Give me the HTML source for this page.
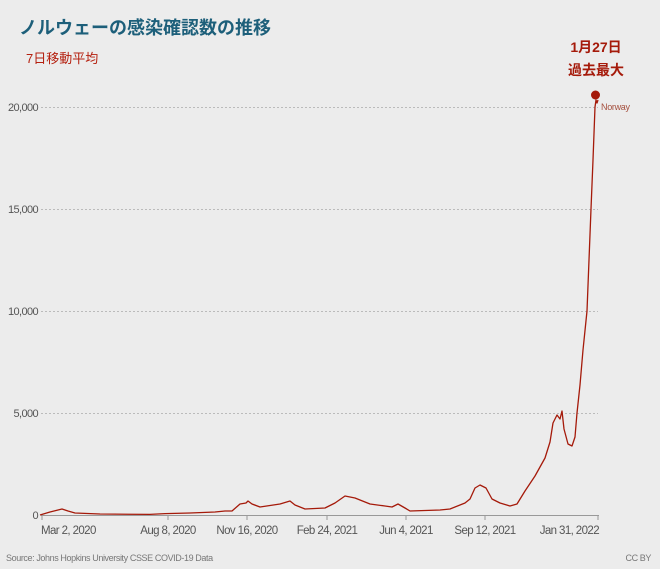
<!DOCTYPE html>
<html><head><meta charset="utf-8"><style>
body{margin:0;background:#ececec;}
svg{display:block;font-family:"Liberation Sans","Noto Sans CJK JP",sans-serif;}
</style></head><body>
<svg width="660" height="569" viewBox="0 0 660 569">
<rect width="660" height="569" fill="#ececec"/>
<text x="19" y="34" font-size="18" font-weight="bold" fill="#1d5f7a">ノルウェーの感染確認数の推移</text>
<text x="26" y="63" font-size="13" fill="#b5200f">7日移動平均</text>
<text x="596" y="52" font-size="14" font-weight="bold" fill="#a51a0a" text-anchor="middle">1月27日</text>
<text x="596" y="75" font-size="14" font-weight="bold" fill="#a51a0a" text-anchor="middle">過去最大</text>
<g stroke="#bbb" stroke-dasharray="2,2" stroke-width="1">
<line x1="41" y1="107.5" x2="598" y2="107.5"/>
<line x1="41" y1="209.5" x2="598" y2="209.5"/>
<line x1="41" y1="311.5" x2="598" y2="311.5"/>
<line x1="41" y1="413.5" x2="598" y2="413.5"/>
</g>
<g font-size="11" fill="#555" text-anchor="end" letter-spacing="-0.6">
<text x="38" y="111">20,000</text>
<text x="38" y="213">15,000</text>
<text x="38" y="315">10,000</text>
<text x="38" y="417">5,000</text>
<text x="38" y="519">0</text>
</g>
<line x1="41" y1="515.5" x2="599" y2="515.5" stroke="#999"/>
<g stroke="#999">
<line x1="42" y1="515" x2="42" y2="520"/><line x1="168" y1="515" x2="168" y2="520"/>
<line x1="247" y1="515" x2="247" y2="520"/><line x1="327" y1="515" x2="327" y2="520"/>
<line x1="406" y1="515" x2="406" y2="520"/><line x1="485" y1="515" x2="485" y2="520"/>
<line x1="598" y1="515" x2="598" y2="520"/>
</g>
<g font-size="11.5" fill="#555" text-anchor="middle" letter-spacing="-0.6">
<text x="41" y="534" text-anchor="start">Mar 2, 2020</text>
<text x="168" y="534">Aug 8, 2020</text>
<text x="247" y="534">Nov 16, 2020</text>
<text x="327" y="534">Feb 24, 2021</text>
<text x="406" y="534">Jun 4, 2021</text>
<text x="485" y="534">Sep 12, 2021</text>
<text x="599" y="534" text-anchor="end">Jan 31, 2022</text>
</g>
<text x="6" y="561" font-size="9" fill="#777" letter-spacing="-0.4">Source: Johns Hopkins University CSSE COVID-19 Data</text>
<text x="651" y="561" font-size="9" fill="#777" text-anchor="end" letter-spacing="-0.4">CC BY</text>
<polyline fill="none" stroke="#a51a0a" stroke-width="1.3" stroke-linejoin="round" points="40,515 50,512 58,510 62,509 68,511 75,513 100,514 150,514.4 165,513.6 190,513 215,512 225,511 232,511 240,504 246,503 248,501 252,504 260,507 280,504 290,501 295,505 305,509 325,508 335,503 345,496 355,498 370,504 385,506 392,507 398,504 405,508 410,511 440,510 450,509 465,503 470,499 475,488 480,485 486,488 492,499 500,503 510,506 517,504 525,491 535,476 545,458 550,442 553,423 557,415 560,419 562,411 564,429 568,444 572,446 575,437 577,413 580,385 583,350 587,311 589,260 591,209 593,160 595,107 596,100 597,103 598,100"/>
<circle cx="595.5" cy="95" r="4.5" fill="#a51a0a"/>
<text x="601" y="110" font-size="9" fill="#a5503f" letter-spacing="-0.3">Norway</text>
</svg>
</body></html>
